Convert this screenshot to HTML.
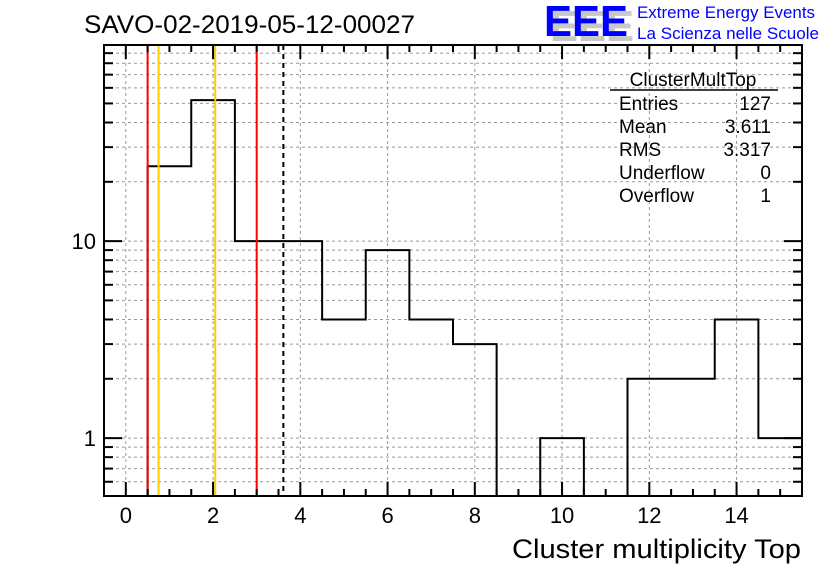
<!DOCTYPE html>
<html><head><meta charset="utf-8"><style>
body{margin:0;background:#fff;}
svg text{font-family:"Liberation Sans",Arial,sans-serif;}
</style></head><body>
<svg id="c" width="836" height="572" xmlns="http://www.w3.org/2000/svg">
<rect width="836" height="572" fill="#fff"/>
<text x="84" y="33" font-size="25" textLength="331" lengthAdjust="spacingAndGlyphs">SAVO-02-2019-05-12-00027</text>
<g>
<text x="550" y="41" font-size="44" font-weight="bold" fill="#c8c8c8" textLength="84" lengthAdjust="spacingAndGlyphs">EEE</text>
<text x="544" y="36" font-size="44" font-weight="bold" fill="#0000ff" textLength="84" lengthAdjust="spacingAndGlyphs">EEE</text>
<text x="637" y="18" font-size="17" fill="#0000ff" textLength="178" lengthAdjust="spacingAndGlyphs">Extreme Energy Events</text>
<text x="637" y="39" font-size="17" fill="#0000ff" textLength="182" lengthAdjust="spacingAndGlyphs">La Scienza nelle Scuole</text>
</g>
<g id="grid"></g>
<g id="marks"></g>
<g id="axes"></g>
<g font-size="19">
<text x="693" y="86" text-anchor="middle">ClusterMultTop</text>
<line x1="610" y1="90" x2="778" y2="90" stroke="#000" stroke-width="1.5"/>
<text x="619" y="110">Entries</text><text x="771" y="110" text-anchor="end">127</text>
<text x="619" y="133">Mean</text><text x="771" y="133" text-anchor="end">3.611</text>
<text x="619" y="156">RMS</text><text x="771" y="156" text-anchor="end">3.317</text>
<text x="619" y="179">Underflow</text><text x="771" y="179" text-anchor="end">0</text>
<text x="619" y="202">Overflow</text><text x="771" y="202" text-anchor="end">1</text>
</g>
<text x="801" y="558" font-size="27" text-anchor="end" textLength="289" lengthAdjust="spacingAndGlyphs">Cluster multiplicity Top</text>
</svg>
<script>
const binCenters=[0,1,2,3,4,5,6,7,8,9,10,11,12,13,14,15];
const counts=[0,24,52,10,10,4,9,4,3,0,1,0,2,2,4,1];
const xTickLabels=[0,2,4,6,8,10,12,14];
const yTickLabels=[1,10];
const redLines=[0.5,3.0];
const orangeLines=[0.75,2.05];
const meanLine=[3.611];
const L=104,R=802,T=45,B=496,xmin=-0.5,xmax=15.5,ymin=0.508,ymax=99;
const X=v=>L+(v-xmin)/(xmax-xmin)*(R-L);
const Y=v=>B-(Math.log10(v)-Math.log10(ymin))/(Math.log10(ymax)-Math.log10(ymin))*(B-T);
const NS="http://www.w3.org/2000/svg";
function mk(p,t,a){const e=document.createElementNS(NS,t);for(const k in a)e.setAttribute(k,a[k]);p.appendChild(e);return e;}
const grid=document.getElementById('grid'),marks=document.getElementById('marks'),axes=document.getElementById('axes');
xTickLabels.forEach(v=>{const l=mk(grid,'line',{x1:X(v),x2:X(v),y1:T,y2:B,stroke:'#999','stroke-dasharray':'3,3'});

});
for(let d=0.1;d<=10;d*=10)for(let m=1;m<=9;m++){const v=d*m;if(v<ymin||v>ymax)continue;
const l=mk(grid,'line',{x1:L,x2:R,y1:Y(v),y2:Y(v),stroke:'#999','stroke-dasharray':'3,3'});

}
let p='M'+X(binCenters[0]-0.5)+','+B;
binCenters.forEach((c,i)=>{const y=counts[i]>0?Y(counts[i]):B;p+=' L'+X(c-0.5)+','+y+' L'+X(c+0.5)+','+y;});
p+=' L'+X(15.5)+','+B;
const h=mk(marks,'path',{d:p,fill:'none',stroke:'#000','stroke-width':2});


redLines.forEach(v=>{const l=mk(marks,'line',{x1:X(v),x2:X(v),y1:T,y2:B,stroke:'#ff0000','stroke-width':2});

});
orangeLines.forEach(v=>{const l=mk(marks,'line',{x1:X(v),x2:X(v),y1:T,y2:B,stroke:'#ffcc00','stroke-width':2});

});
meanLine.forEach(v=>{const l=mk(marks,'line',{x1:X(v),x2:X(v),y1:T,y2:B,stroke:'#000','stroke-width':2,'stroke-dasharray':'5,4'});

});
mk(axes,'rect',{x:L,y:T,width:R-L,height:B-T,fill:'none',stroke:'#000','stroke-width':2});
for(let v=0;v<=15.5;v+=0.5){const len=(v%2===0)?14:7;
mk(axes,'line',{x1:X(v),x2:X(v),y1:B,y2:B-len,stroke:'#000','stroke-width':2});
mk(axes,'line',{x1:X(v),x2:X(v),y1:T,y2:T+len,stroke:'#000','stroke-width':2});}
xTickLabels.forEach(v=>{const t=mk(axes,'text',{x:X(v),y:523,'font-size':22,'text-anchor':'middle'});t.textContent=v;

});
for(let d=0.1;d<=10;d*=10)for(let m=1;m<=9;m++){const v=d*m;if(v<ymin||v>ymax)continue;const len=(m===1)?18:9;
mk(axes,'line',{x1:L,x2:L+len,y1:Y(v),y2:Y(v),stroke:'#000','stroke-width':2});
mk(axes,'line',{x1:R,x2:R-len,y1:Y(v),y2:Y(v),stroke:'#000','stroke-width':2});}
yTickLabels.forEach(v=>{const t=mk(axes,'text',{x:96,y:Y(v)+8,'font-size':22,'text-anchor':'end'});t.textContent=v;

});
</script>
</body></html>
